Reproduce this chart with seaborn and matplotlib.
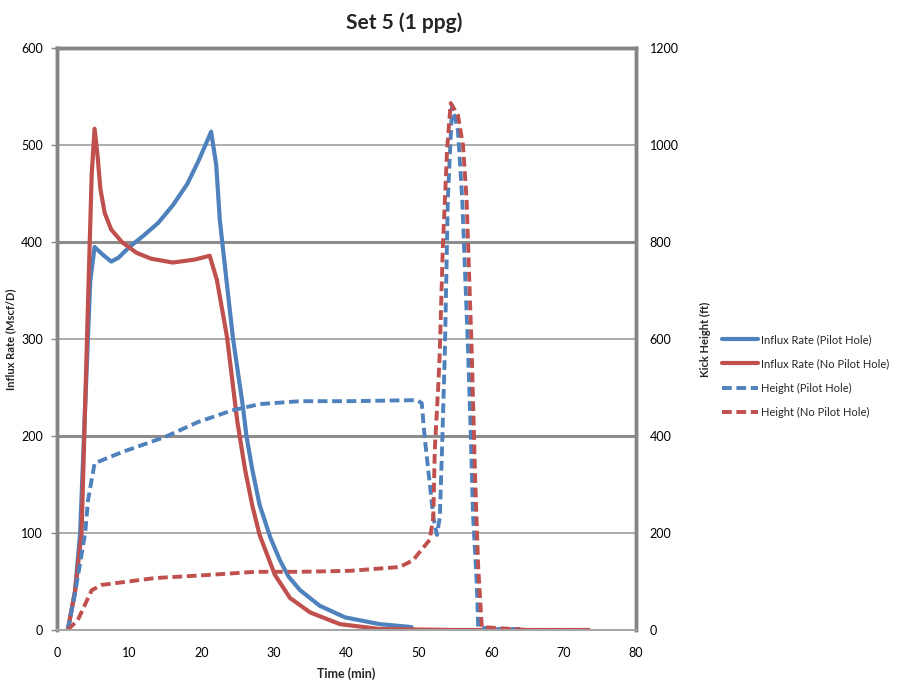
import pandas as pd
import matplotlib.pyplot as plt
import seaborn as sns

# Influx rate, pilot hole
t_rate_ph = [1.5, 2.5, 3.2, 4.0, 4.6, 5.2, 6.2, 7.5, 8.5, 10.0, 12.0, 14.0, 16.0, 18.0,
             19.5, 20.5, 21.3, 22.0, 22.5, 23.0, 24.3, 25.7, 26.2, 27.0, 28.0, 29.5,
             30.8, 32.0, 33.6, 36.3, 39.8, 44.6, 49.0]
rate_ph = [0, 40, 100, 250, 360, 395, 388, 380, 384, 395, 407, 420, 438, 460,
           483, 500, 514, 480, 423, 389, 302, 230, 199, 165, 129, 95,
           72, 55, 41, 25, 13, 6, 3]

# Influx rate, no pilot hole
t_rate_nph = [1.5, 2.5, 3.4, 4.3, 4.8, 5.2, 5.6, 6.0, 6.6, 7.5, 9.0, 11.0, 13.0, 16.0,
              19.0, 21.1, 22.1, 23.5, 24.9, 26.0, 27.0, 28.0, 30.1, 32.2, 35.0, 39.1,
              44.6, 55.0, 65.0, 73.5]
rate_nph = [0, 40, 100, 340, 470, 517, 490, 455, 430, 413, 400, 389, 383, 379,
            382, 386, 361, 302, 216, 165, 128, 98, 57, 33, 18, 6,
            1, 0, 0, 0]

# Kick height, pilot hole
t_h_ph = [1.5, 2.5, 3.9, 4.3, 5.2, 9.0, 14.9, 19.5, 24.2, 28.0, 33.6, 40.5, 48.8, 49.7,
          50.4, 50.8, 51.5, 52.0, 52.5, 52.9, 53.2, 53.6, 54.0, 54.6, 55.4, 56.0, 56.8,
          57.1, 57.5, 58.0, 58.2, 60.0, 64.0]
h_ph = [0, 76, 200, 268, 344, 367, 398, 429, 453, 466, 472, 472, 474, 474,
        468, 398, 303, 233, 196, 233, 371, 577, 887, 1082, 1031, 887, 577,
        439, 233, 97, 6, 2, 2]

# Kick height, no pilot hole
t_h_nph = [1.5, 2.9, 4.8, 6.2, 13.5, 20.4, 27.4, 33.6, 40.5, 47.4, 49.2, 51.5, 52.0,
           52.2, 52.7, 52.9, 53.3, 53.9, 54.4, 55.4, 56.1, 56.6, 57.3, 57.8, 58.2,
           58.7, 65.0, 73.5]
h_nph = [0, 21, 82, 93, 107, 113, 120, 120, 122, 130, 144, 186, 233,
         371, 509, 577, 784, 990, 1087, 1062, 1000, 887, 577, 303, 130,
         6, 0, 0]

blue = '#4F81BD'
red = '#C0504D'

sns.set_style('white')
plt.rcParams['font.family'] = ['Lato', 'DejaVu Sans']

fig = plt.figure(figsize=(8.97, 6.90), dpi=100)
ax = fig.add_axes([0.0635, 0.087, 0.6455, 0.843])
ax2 = ax.twinx()

df1 = pd.DataFrame({'t': t_rate_ph, 'v': rate_ph})
df2 = pd.DataFrame({'t': t_rate_nph, 'v': rate_nph})
df3 = pd.DataFrame({'t': t_h_ph, 'v': h_ph})
df4 = pd.DataFrame({'t': t_h_nph, 'v': h_nph})

sns.lineplot(data=df1, x='t', y='v', ax=ax, color=blue, linewidth=3, sort=False,
             label='Influx Rate (Pilot Hole)', legend=False)
sns.lineplot(data=df2, x='t', y='v', ax=ax, color=red, linewidth=3, sort=False,
             label='Influx Rate (No Pilot Hole)', legend=False)
sns.lineplot(data=df3, x='t', y='v', ax=ax2, color=blue, linewidth=2.8, sort=False,
             linestyle=(0, (2.5, 1.2)), label='Height (Pilot Hole)', legend=False)
sns.lineplot(data=df4, x='t', y='v', ax=ax2, color=red, linewidth=2.8, sort=False,
             linestyle=(0, (2.5, 1.2)), label='Height (No Pilot Hole)', legend=False)

ax.set_xlim(0, 80)
ax.set_ylim(0, 600)
ax2.set_ylim(0, 1200)
ax.set_xticks(range(0, 81, 10))
ax.set_yticks(range(0, 601, 100))
ax2.set_yticks(range(0, 1201, 200))

ax.set_xlabel('Time (min)', fontsize=9, fontweight='bold')
ax.set_ylabel('Influx Rate (Mscf/D)', fontsize=8, fontweight='bold')
ax2.set_ylabel('Kick Height (ft)', fontsize=8, fontweight='bold')
ax.xaxis.set_label_coords(0.5, -0.065)
ax.yaxis.set_label_coords(-0.07, 0.5)
ax2.yaxis.set_label_coords(1.11, 0.5)
ax.set_title('Set 5 (1 ppg)', fontsize=15, fontweight='bold', pad=14, x=0.6)

# gridlines
ax.yaxis.grid(True, color='#A6A6A6', linewidth=1.3)
ax2.yaxis.grid(False)
for lv in [200, 400]:
    ax.axhline(lv, color='#8C8C8C', linewidth=2.2, zorder=0.6)
ax.set_axisbelow(True)

for a in (ax, ax2):
    for s in ['left', 'right', 'top']:
        a.spines[s].set_color('#868686')
        a.spines[s].set_linewidth(2.5)
    a.spines['bottom'].set_color('#A6A6A6')
    a.spines['bottom'].set_linewidth(1.3)
    a.tick_params(axis='both', labelsize=9, colors='#404040', length=4, width=1,
                  direction='out')
ax.tick_params(axis='x', colors='#404040', labelcolor='black', pad=8)
ax.tick_params(axis='y', labelcolor='black', color='#868686')
ax2.tick_params(axis='y', labelcolor='black', color='#868686', length=0, pad=10)
ax.tick_params(axis='y', pad=6)

h1, l1 = ax.get_legend_handles_labels()
h2, l2 = ax2.get_legend_handles_labels()
fig.legend(h1 + h2, l1 + l2, loc='center left', bbox_to_anchor=(0.80, 0.455),
           frameon=False, fontsize=8, handlelength=3.2, labelspacing=1.2,
           handletextpad=0.3, borderaxespad=0)

plt.savefig('out.png', dpi=100)
